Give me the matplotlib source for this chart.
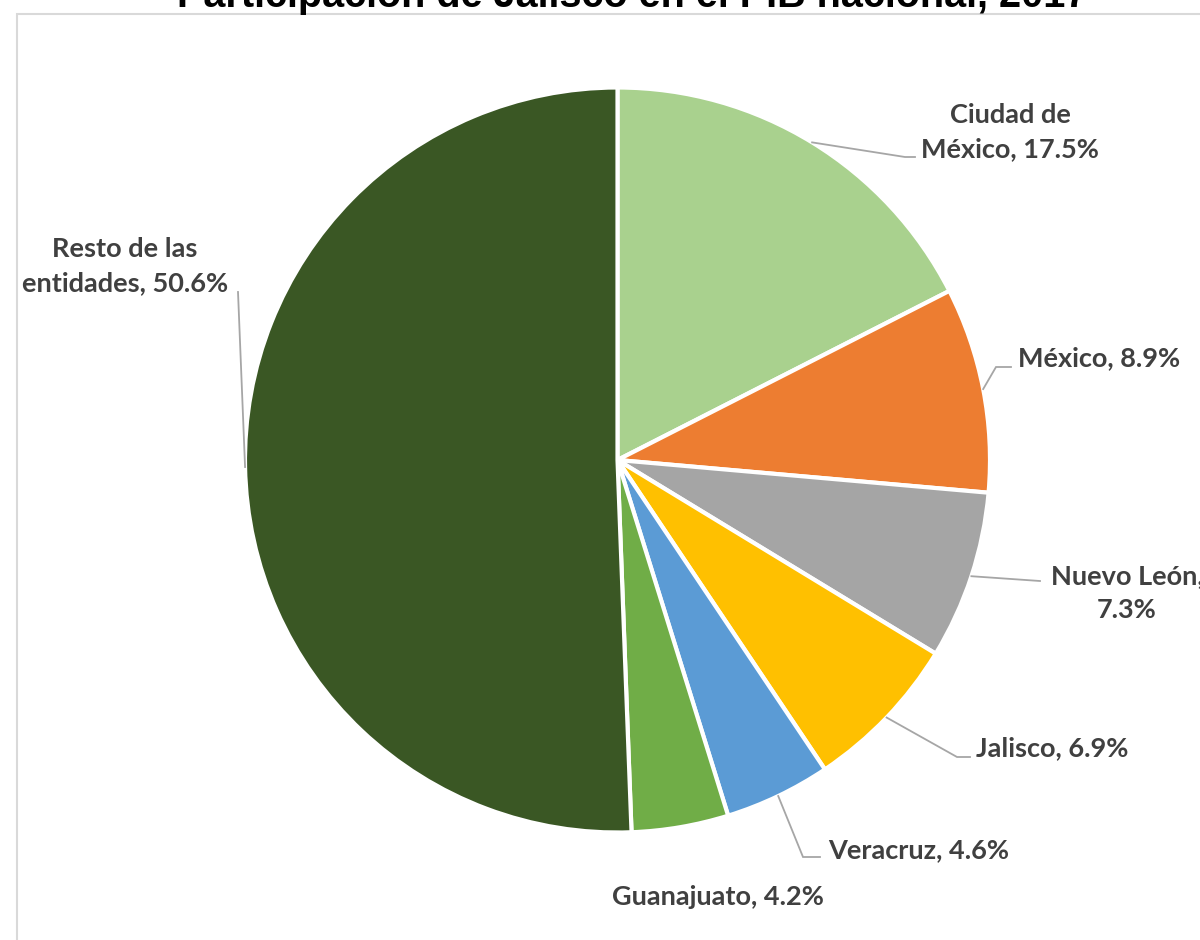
import numpy as np
import matplotlib
matplotlib.use("Agg")
import matplotlib.pyplot as plt
from matplotlib.patches import Rectangle

# ---- data ----
title = "Participación de Jalisco en el PIB nacional, 2017"
categories = ["Ciudad de México", "México", "Nuevo León", "Jalisco",
              "Veracruz", "Guanajuato", "Resto de las entidades"]
values = [17.5, 8.9, 7.3, 6.9, 4.6, 4.2, 50.6]
label_texts = ["Ciudad de\nMéxico, 17.5%", "México, 8.9%", "Nuevo León,\n7.3%",
               "Jalisco, 6.9%", "Veracruz, 4.6%", "Guanajuato, 4.2%",
               "Resto de las\nentidades, 50.6%"]
colors = ["#A9D18E", "#ED7D31", "#A5A5A5", "#FFC000", "#5B9BD5", "#70AD47", "#3A5724"]

W, H = 1200, 940
fig = plt.figure(figsize=(W / 100, H / 100), dpi=100)

# chart-area border (extends beyond right/bottom)
fig.patches.append(Rectangle((17 / W, -0.1), 1.2, (H - 14) / H + 0.1,
                             transform=fig.transFigure, fill=False,
                             edgecolor="#D9D9D9", linewidth=1.5))

cx, cy, R = 617.5, 460, 372.5
ax = fig.add_axes([(cx - R) / W, (H - cy - R) / H, 2 * R / W, 2 * R / H])

wedges, _ = ax.pie(values, colors=colors, startangle=90, counterclock=False,
                   radius=1.0, wedgeprops=dict(edgecolor="white", linewidth=3))
ax.set_xlim(-1, 1)
ax.set_ylim(-1, 1)
ax.set_aspect("auto")
ax.axis("off")
for w in wedges:
    w.set_clip_on(False)


def px2d(px, py):
    return ((px - cx) / R, (cy - py) / R)


# label layout (pixel positions): text anchor, elbow, leader end
layout = [
    dict(text=(1010, 132), ha="center", elbow=(905, 157), end=(915, 157)),
    dict(text=(1018, 358), ha="left", elbow=(996, 367), end=(1011, 367)),
    dict(text=(1127, 593), ha="center", elbow=(1040, 581), end=(1040, 581)),
    dict(text=(976, 748), ha="left", elbow=(957, 757), end=(970, 757)),
    dict(text=(828, 850), ha="left", elbow=(803, 857), end=(820, 857)),
    dict(text=(718, 897), ha="center", elbow=None, end=None),
    dict(text=(125, 266), ha="center", elbow=(238, 292), end=(238, 292)),
]

cum = np.cumsum([0] + values)
total = cum[-1]
font = dict(family=["Lato", "DejaVu Sans"], fontweight="bold", color="#404040",
            fontsize=19.5, linespacing=1.5)
for i, lay in enumerate(layout):
    mid = 90 - 360 * (cum[i] + values[i] / 2) / total
    sx, sy = np.cos(np.radians(mid)), np.sin(np.radians(mid))
    if lay["elbow"] is not None:
        ex, ey = px2d(*lay["elbow"])
        tx, ty = px2d(*lay["end"])
        ax.plot([sx, ex, tx], [sy, ey, ty], color="#A6A6A6", linewidth=1.3,
                clip_on=False, solid_joinstyle="miter")
    x, y = px2d(*lay["text"])
    ax.text(x, y, label_texts[i], ha=lay["ha"], va="center", multialignment="center",
            clip_on=False, **font)

fig.text(632 / W, 1 - 7 / H, title, ha="center", va="baseline",
         family=["Liberation Sans", "DejaVu Sans"], fontweight="bold",
         fontsize=28.5, color="black")

fig.savefig("out.png", dpi=100, facecolor="white")
